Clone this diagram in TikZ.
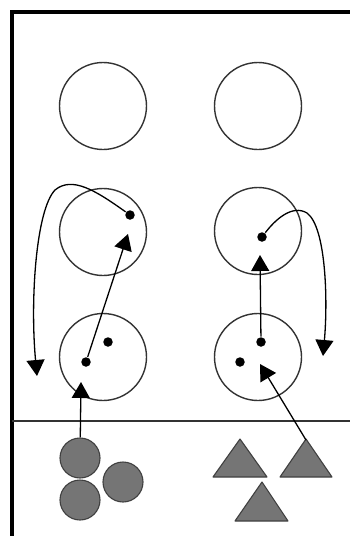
\documentclass[tikz,border=0pt]{standalone}
\usetikzlibrary{arrows.meta,positioning}
\tikzset{
  cell/.style={circle,draw=black!80,line width=1.4pt,minimum size=87pt,inner sep=0pt},
  dot/.style={circle,fill=black,minimum size=9.5pt,inner sep=0pt},
  grain/.style={circle,draw=black!75,fill=black!54,line width=1.1pt,minimum size=40pt,inner sep=0pt},
  wedge/.style={draw=black!75,fill=black!54,line width=1.1pt,line join=round},
  move/.style={-{Triangle[length=16pt,width=18pt]}},
}

\begin{document}
\begin{tikzpicture}
[x=1pt,y=-1pt,line width=1.3pt]
\useasboundingbox (0,0) rectangle (350,536);
% frame and ground line
\draw[line width=4pt] (12,536) -- (12,12) -- (350,12);
\draw[line width=1.4pt,black!80] (12,421) -- (350,421);
% cells
\node[cell] (ctl) at (103,106) {};
\node[cell] (ctr) at (258,106) {};
\node[cell] (cml) at (103,232) {};
\node[cell] (cmr) at (258,231) {};
\node[cell] (cbl) at (103,357) {};
\node[cell] (cbr) at (258,357) {};
% dots
\node[dot] (a) at (130,215) {};
\node[dot] (b) at (108,342) {};
\node[dot] (c) at (86,362) {};
\node[dot] (d) at (262,237) {};
\node[dot] (e) at (261,342) {};
\node[dot] (f) at (240,362) {};
% grains
\node[grain] (g1) at (80,458) {};
\node[grain] (g2) at (123,482) {};
\node[grain] (g3) at (80,500) {};
\draw[wedge] (213,477) -- (240,439) -- (267,477) -- cycle;
\draw[wedge] (280,477) -- (306,439) -- (332,477) -- cycle;
\draw[wedge] (235,521) -- (262,482) -- (288,521) -- cycle;
\coordinate (t2) at (306,440);
% arrow ends
\coordinate (pa) at (128,234);
\coordinate (pb) at (37,376);
\coordinate (pc) at (81,382);
\coordinate (pd) at (260,255);
\coordinate (pe) at (323,356);
\coordinate (pf) at (260,364);
% arrows
\draw[move] (c) -- (pa);
\draw[move] (a) .. controls (95,190) and (72,176) .. (55,190)
  .. controls (36,210) and (30,300) .. (pb);
\draw[move] (g1) -- (pc);
\draw[move] (e) -- (pd);
\draw[move] (d) .. controls (275,220) and (292,204) .. (307,213)
  .. controls (326,227) and (328,300) .. (pe);
\draw[move] (t2) -- (pf);
\end{tikzpicture}
\end{document}
